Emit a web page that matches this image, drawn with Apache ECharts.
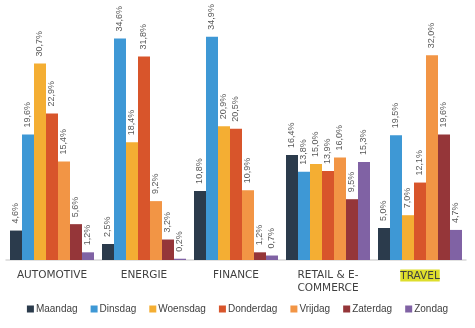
<!DOCTYPE html>
<html><head><meta charset="utf-8">
<script src="https://cdn.jsdelivr.net/npm/echarts@6/dist/echarts.min.js"></script>
<style>html,body{margin:0;padding:0;background:#fff}#c{width:475px;height:328px}</style>
</head><body><div id="c"></div>
<script>
const categories = ['AUTOMOTIVE', 'ENERGIE', 'FINANCE', 'RETAIL & E-\nCOMMERCE', 'TRAVEL'];
const maandag   = [4.6, 2.5, 10.8, 16.4, 5.0];
const dinsdag   = [19.6, 34.6, 34.9, 13.8, 19.5];
const woensdag  = [30.7, 18.4, 20.9, 15.0, 7.0];
const donderdag = [22.9, 31.8, 20.5, 13.9, 12.1];
const vrijdag   = [15.4, 9.2, 10.9, 16.0, 32.0];
const zaterdag  = [5.6, 3.2, 1.2, 9.5, 19.6];
const zondag    = [1.2, 0.2, 0.7, 15.3, 4.7];
const seriesNames = ['Maandag', 'Dinsdag', 'Woensdag', 'Donderdag', 'Vrijdag', 'Zaterdag', 'Zondag'];
const seriesData = [maandag, dinsdag, woensdag, donderdag, vrijdag, zaterdag, zondag];
const colors = ['#2B3B4C', '#3E98D5', '#F4AE33', '#D8552B', '#F29545', '#953639', '#8062A4'];

const chart = echarts.init(document.getElementById('c'), null, {renderer: 'canvas'});
chart.setOption({
  animation: false,
  color: colors,
  grid: {left: 6, right: 9, top: 4, bottom: 68, containLabel: false},
  legend: {
    bottom: 9, left: 'center', itemWidth: 7, itemHeight: 7, itemGap: 13,
    icon: 'rect',
    textStyle: {fontFamily: 'Liberation Sans', fontSize: 10, color: '#404040', padding: [0,0,0,-3]},
    data: seriesNames
  },
  xAxis: {
    type: 'category', data: categories,
    axisLine: {lineStyle: {color: '#D9D9D9', width: 1.5}},
    axisTick: {show: false},
    axisLabel: {
      interval: 0, margin: 9, color: '#404040',
      fontFamily: 'DejaVu Sans', fontSize: 10.5, lineHeight: 13,
      formatter: v => v === 'TRAVEL' ? '{hl|' + v + '}' : v,
      rich: {hl: {backgroundColor: '#DEDE2C', fontFamily: 'DejaVu Sans', fontSize: 10.5, color: '#404040', padding: [1,0,0,0]}}
    }
  },
  yAxis: {type: 'value', min: 0, max: 40, show: false, splitLine: {show: false}},
  series: seriesNames.map((n, i) => ({
    name: n, type: 'bar', data: seriesData[i],
    barGap: '0%', barCategoryGap: '8.7%',
    label: {
      show: true, position: 'top', rotate: 90, align: 'left', verticalAlign: 'middle',
      distance: 7, color: '#595959', fontFamily: 'Liberation Sans', fontSize: 9,
      formatter: p => p.value.toFixed(1).replace('.', ',') + '%'
    }
  }))
});
</script></body></html>
